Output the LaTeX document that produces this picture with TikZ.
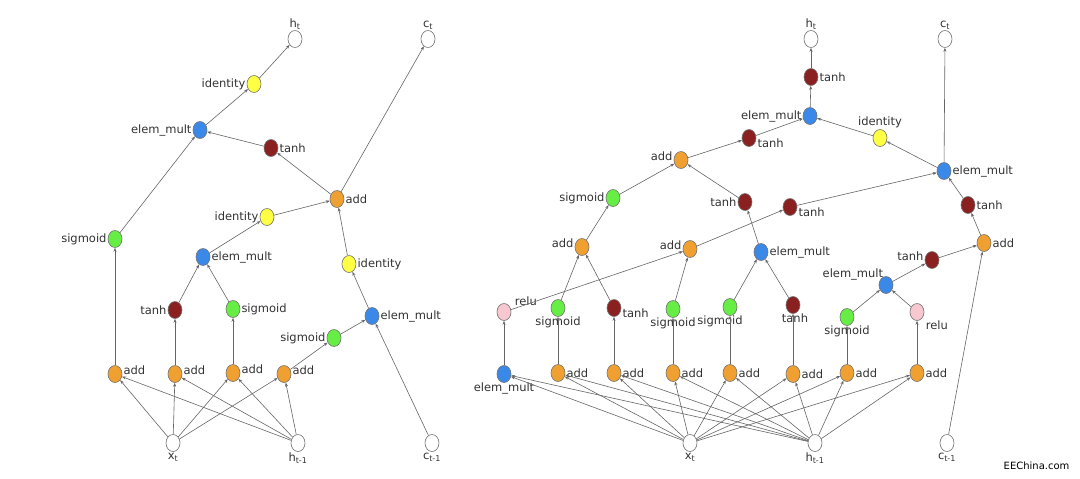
\documentclass[tikz,border=0pt]{standalone}
\usepackage{fontspec}
\setmainfont{DejaVu Sans}
\usetikzlibrary{shapes.geometric,arrows.meta}
\definecolor{cO}{HTML}{F0A030}
\definecolor{cB}{HTML}{3A88E8}
\definecolor{cG}{HTML}{66EE44}
\definecolor{cR}{HTML}{8B2020}
\definecolor{cY}{HTML}{FFFF44}
\definecolor{cP}{HTML}{F8C8D0}
\definecolor{txt}{HTML}{333333}
\begin{document}
\begin{tikzpicture}[x=1pt,y=-1pt,
  n/.style={ellipse,draw=black!55,line width=0.6pt,minimum width=14pt,minimum height=17pt,inner sep=0pt},
  O/.style={n,fill=cO}, B/.style={n,fill=cB}, G/.style={n,fill=cG}, R/.style={n,fill=cR},
  Y/.style={n,fill=cY}, P/.style={n,fill=cP}, W/.style={n,fill=white},
  every label/.style={font=\fontsize{11.5}{13}\selectfont,text=txt,inner sep=1pt},
  label distance=0pt,
  e/.style={draw=black!60,line width=0.6pt,-{Stealth[length=4pt,width=3pt]}}]
\useasboundingbox (0,0) rectangle (1080,479);
\fill[white] (0,0) rectangle (1080,479);
% ---------- left ----------
\node[W,label=above:{h\textsubscript{t}}] (Lht) at (295,39) {};
\node[W,label=above:{c\textsubscript{t}}] (Lct) at (428,39) {};
\node[Y,label=left:identity] (Lid1) at (254,84) {};
\node[B,label=left:elem\_mult] (Lem1) at (200,130) {};
\node[R,label=right:tanh] (Lt1) at (271,148) {};
\node[O,label=right:add] (Lac) at (337,199) {};
\node[Y,label=left:identity] (Lid2) at (267,217) {};
\node[G,label=left:sigmoid] (Lso) at (115,239) {};
\node[B,label=right:elem\_mult] (Lem2) at (203,257) {};
\node[Y,label=right:identity] (Lid3) at (349,264) {};
\node[R,label=left:tanh] (Lt2) at (175,310) {};
\node[G,label=right:sigmoid] (Ls2) at (233,309) {};
\node[B,label=right:elem\_mult] (Lem3) at (372,316) {};
\node[G,label=left:sigmoid] (Ls3) at (334,338) {};
\node[O,label={[yshift=4pt]right:add}] (La1) at (115,374) {};
\node[O,label={[yshift=4pt]right:add}] (La2) at (175,374) {};
\node[O,label={[yshift=4pt]right:add}] (La3) at (233,373) {};
\node[O,label={[yshift=4pt]right:add}] (La4) at (284,374) {};
\node[W,label=below:{x\textsubscript{t}}] (Lxt) at (173,443) {};
\node[W,label=below:{h\textsubscript{t-1}}] (Lhp) at (298,443) {};
\node[W,label=below:{c\textsubscript{t-1}}] (Lcp) at (432,443) {};
\foreach \a in {La1,La2,La3,La4}{\draw[e] (Lxt) -- (\a); \draw[e] (Lhp) -- (\a);}
\draw[e] (La1)--(Lso); \draw[e] (Lso)--(Lem1);
\draw[e] (La2)--(Lt2); \draw[e] (Lt2)--(Lem2);
\draw[e] (La3)--(Ls2); \draw[e] (Ls2)--(Lem2);
\draw[e] (Lem2)--(Lid2); \draw[e] (Lid2)--(Lac);
\draw[e] (La4)--(Ls3); \draw[e] (Ls3)--(Lem3);
\draw[e] (Lcp)--(Lem3); \draw[e] (Lem3)--(Lid3); \draw[e] (Lid3)--(Lac);
\draw[e] (Lac)--(Lct); \draw[e] (Lac)--(Lt1); \draw[e] (Lt1)--(Lem1);
\draw[e] (Lem1)--(Lid1); \draw[e] (Lid1)--(Lht);
% ---------- right ----------
\node[W,label=above:{h\textsubscript{t}}] (Rht) at (811,39) {};
\node[W,label=above:{c\textsubscript{t}}] (Rct) at (945,39) {};
\node[R,label=right:tanh] (RtT) at (811,77) {};
\node[B,label=left:elem\_mult] (RemT) at (810,116) {};
\node[R,label={[yshift=-5pt]right:tanh}] (RtA) at (749,138) {};
\node[Y,label=above:identity] (Rid) at (880,138) {};
\node[O,label={[yshift=4pt]left:add}] (RaA) at (681,160) {};
\node[B,label=right:elem\_mult] (RemR) at (944,171) {};
\node[G,label=left:sigmoid] (RsA) at (613,198) {};
\node[R,label=left:tanh] (RtB) at (745,202) {};
\node[R,label={[yshift=-5pt]right:tanh}] (RtC) at (790,207) {};
\node[R,label=right:tanh] (RtD) at (968,205) {};
\node[O,label={[yshift=4pt]left:add}] (RaB) at (582,247) {};
\node[O,label={[yshift=4pt]left:add}] (RaC) at (690,249) {};
\node[B,label=right:elem\_mult] (RemB) at (761,252) {};
\node[O,label=right:add] (RaD) at (984,243) {};
\node[R,label={[yshift=4pt]left:tanh}] (RtE) at (932,260) {};
\node[B,label={[xshift=4pt,yshift=-2pt]above left:elem\_mult}] (RemC) at (886,285) {};
\node[P,label={[xshift=4pt]above right:relu}] (Rr1) at (504,312) {};
\node[G,label={[yshift=1pt]below:sigmoid}] (RsB) at (558,308) {};
\node[R,label={[yshift=-5pt]right:tanh}] (RtF) at (614,308) {};
\node[G,label={[yshift=1pt]below:sigmoid}] (RsC) at (673,309) {};
\node[G,label={[xshift=-10pt,yshift=1pt]below:sigmoid}] (RsD) at (730,307) {};
\node[R,label={[xshift=2pt,yshift=1pt]below:tanh}] (RtG) at (793,305) {};
\node[G,label={[yshift=1pt]below:sigmoid}] (RsE) at (847,317) {};
\node[P,label={[xshift=2pt,yshift=-2pt]below right:relu}] (Rr2) at (917,312) {};
\node[B,label={[yshift=1pt]below:elem\_mult}] (RemD) at (504,374) {};
\node[O,label=right:add] (Rb1) at (558,373) {};
\node[O,label=right:add] (Rb2) at (614,373) {};
\node[O,label=right:add] (Rb3) at (673,373) {};
\node[O,label=right:add] (Rb4) at (730,373) {};
\node[O,label=right:add] (Rb5) at (793,374) {};
\node[O,label=right:add] (Rb6) at (847,373) {};
\node[O,label=right:add] (Rb7) at (917,373) {};
\node[W,label=below:{x\textsubscript{t}}] (Rxt) at (690,443) {};
\node[W,label=below:{h\textsubscript{t-1}}] (Rhp) at (815,443) {};
\node[W,label=below:{c\textsubscript{t-1}}] (Rcp) at (947,443) {};
\foreach \a in {RemD,Rb1,Rb2,Rb3,Rb4,Rb5,Rb6,Rb7}{\draw[e] (Rxt) -- (\a); \draw[e] (Rhp) -- (\a);}
\draw[e] (RemD)--(Rr1); \draw[e] (Rr1)--(RaC);
\draw[e] (Rb1)--(RsB); \draw[e] (Rb2)--(RtF); \draw[e] (Rb3)--(RsC);
\draw[e] (Rb4)--(RsD); \draw[e] (Rb5)--(RtG); \draw[e] (Rb6)--(RsE); \draw[e] (Rb7)--(Rr2);
\draw[e] (RsB)--(RaB); \draw[e] (RtF)--(RaB);
\draw[e] (RsC)--(RaC);
\draw[e] (RsD)--(RemB); \draw[e] (RtG)--(RemB);
\draw[e] (RsE)--(RemC); \draw[e] (Rr2)--(RemC);
\draw[e] (RemC)--(RtE); \draw[e] (RtE)--(RaD); \draw[e] (Rcp)--(RaD);
\draw[e] (RaD)--(RtD); \draw[e] (RtD)--(RemR);
\draw[e] (RaC)--(RtC); \draw[e] (RtC)--(RemR);
\draw[e] (RemR)--(Rct); \draw[e] (RemR)--(Rid); \draw[e] (Rid)--(RemT);
\draw[e] (RaB)--(RsA); \draw[e] (RsA)--(RaA);
\draw[e] (RemB)--(RtB); \draw[e] (RtB)--(RaA);
\draw[e] (RaA)--(RtA); \draw[e] (RtA)--(RemT);
\draw[e] (RemT)--(RtT); \draw[e] (RtT)--(Rht);
\node[font=\fontsize{10}{11}\selectfont,anchor=east] (wm) at (1073,466) {EEChina.com};
\end{tikzpicture}
\end{document}
